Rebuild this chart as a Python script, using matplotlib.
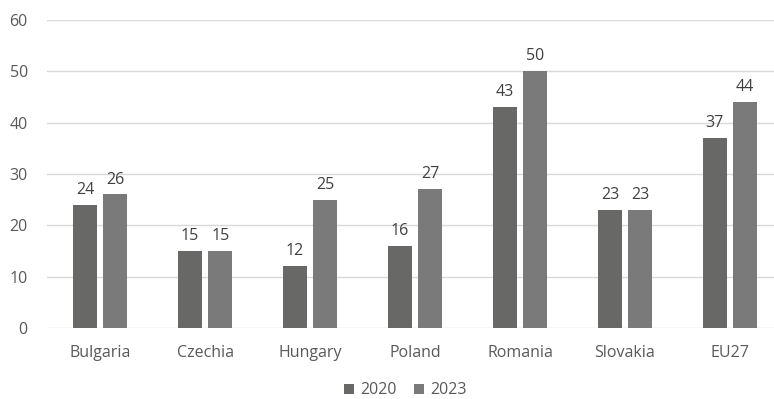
import matplotlib.pyplot as plt
import numpy as np

countries = ["Bulgaria", "Czechia", "Hungary", "Poland", "Romania", "Slovakia", "EU27"]
vals_2020 = [24, 15, 12, 16, 43, 23, 37]
vals_2023 = [26, 15, 25, 27, 50, 23, 44]

plt.rcParams['font.family'] = ['Open Sans', 'DejaVu Sans']
txt = '#595959'

fig = plt.figure(figsize=(7.74, 3.99), dpi=100)
ax = fig.add_axes([0.061, 0.178, 0.939, 0.772])

x = np.arange(len(countries))
w = 0.23
b1 = ax.bar(x - 0.143, vals_2020, w, color='#686866', label='2020', zorder=3)
b2 = ax.bar(x + 0.143, vals_2023, w, color='#7a7a7a', label='2023', zorder=3)
for bars in (b1, b2):
    ax.bar_label(bars, padding=5, fontsize=11.5, color='#404040')

ax.set_xlim(-0.505, 6.42)
ax.set_ylim(0, 60)
ax.set_yticks(range(0, 61, 10))
ax.set_xticks(x)
ax.set_xticklabels(countries)
ax.tick_params(length=0, labelsize=11.5, colors=txt)
ax.tick_params(axis='x', pad=12)
ax.tick_params(axis='y', pad=14)
ax.grid(axis='y', color='#d9d9d9', linewidth=1, zorder=0)
for s in ax.spines.values():
    s.set_visible(False)

ax.legend(loc='upper center', bbox_to_anchor=(0.493, -0.14), ncol=2, frameon=False,
          fontsize=11.5, labelcolor=txt, handlelength=0.6, handleheight=0.6,
          handletextpad=0.4, columnspacing=1.1, borderpad=0.2)

fig.savefig('out.png', dpi=100)
